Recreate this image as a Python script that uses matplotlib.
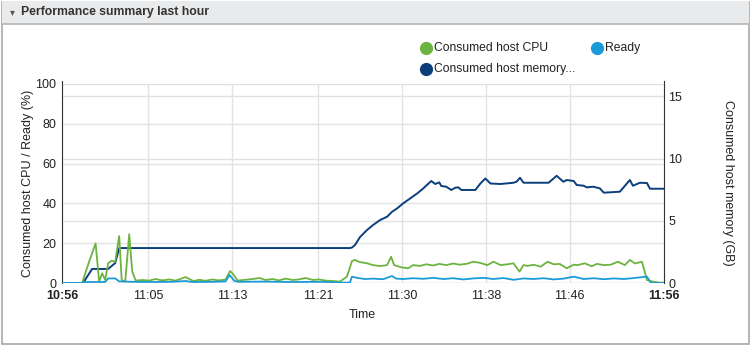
import matplotlib
matplotlib.use("Agg")
import matplotlib.pyplot as plt
from matplotlib.patches import Rectangle
from matplotlib.lines import Line2D

plt.rcParams['font.family'] = ['Liberation Sans', 'DejaVu Sans']

W, H, DPI = 751, 346, 100

# ---- data (minutes after 10:56) ----
cpu_t = [0, 2.0, 2.7, 3.35, 3.7, 4.0, 4.3, 4.6, 4.95, 5.3, 5.7, 5.95, 6.3, 6.7, 7.0, 7.35,
         8.0, 8.7, 9.3, 10.0, 10.7, 11.3, 11.8, 12.3, 13.1, 13.7, 14.3, 15.0, 15.6, 16.3,
         16.75, 17.05, 17.5, 18.2, 19.0, 19.7, 20.3, 21.0, 21.6, 22.3, 23.0, 23.6, 24.3,
         25.0, 25.6, 26.3, 27.0, 27.7, 28.4, 28.9, 29.2, 29.7, 30.4, 31.0, 31.7, 32.4, 32.8,
         33.1, 33.8, 34.5, 35.0, 35.7, 36.3, 37.0, 37.6, 38.3, 39.0, 39.6, 40.3, 41.0, 41.6,
         42.4, 43.0, 43.7, 44.4, 45.0, 45.6, 46.0, 46.4, 47.0, 47.7, 48.4, 49.0, 49.6, 50.3,
         51.0, 51.4, 52.1, 52.8, 53.3, 54.0, 54.7, 55.4, 56.1, 56.6, 57.1, 57.8, 58.3, 58.8,
         59.5, 60.0]
cpu_v = [0, 0, 10.7, 19.9, 0.7, 4.9, 1.5, 9.9, 11.2, 10.7, 23.6, 1.5, 0.7, 24.5, 5.7, 1.2,
         1.5, 1.2, 2.0, 1.3, 1.8, 1.2, 2.0, 3.0, 1.0, 1.6, 1.1, 1.8, 1.3, 1.7,
         6.0, 4.5, 1.2, 1.6, 2.0, 2.5, 1.5, 2.0, 1.3, 2.2, 1.5, 1.8, 2.5,
         1.5, 1.8, 1.2, 1.0, 0.7, 3.2, 11.0, 11.6, 10.5, 9.9, 9.0, 8.5, 9.0, 13.2,
         9.0, 7.9, 7.4, 9.0, 8.6, 9.4, 8.8, 9.6, 9.0, 9.8, 9.2, 9.6, 10.7, 10.2,
         9.0, 10.7, 9.0, 9.4, 9.9, 5.7, 9.0, 8.6, 9.2, 8.2, 10.7, 9.4, 9.6, 7.4,
         9.2, 9.0, 9.9, 8.4, 9.6, 9.0, 9.2, 10.7, 9.0, 11.6, 9.8, 10.7, 1.5, 0.8,
         0.2, 0.2]

ready_t = [0, 2.0, 2.3, 4.3, 4.6, 5.3, 5.7, 7.0, 9.0, 11.0, 12.3, 13.0, 15.0, 16.3,
           16.7, 17.2, 17.6, 20.0, 23.0, 26.0, 27.5, 28.7, 28.9, 29.5, 30.2, 31.0, 32.0,
           32.9, 33.3, 34.0, 35.0, 36.0, 37.0, 38.0, 39.0, 40.0, 41.0, 42.0, 43.0, 44.0,
           45.0, 46.0, 47.0, 48.0, 49.0, 50.0, 51.0, 52.0, 53.0, 54.0, 55.0, 56.0, 57.0,
           58.3, 58.7, 60.0]
ready_v = [0, 0, 0.5, 0.5, 2.3, 2.3, 0.8, 0.6, 0.5, 0.6, 1.0, 0.5, 0.6, 0.8,
           4.0, 1.0, 0.6, 0.7, 0.5, 0.6, 0.2, 0.2, 3.2, 2.5, 2.0, 2.2, 1.9,
           3.5, 2.2, 2.0, 2.4, 2.1, 2.6, 2.0, 2.4, 1.8, 2.3, 2.6, 2.0, 2.5,
           1.6, 2.3, 2.0, 2.4, 1.8, 2.2, 3.2, 2.0, 2.4, 1.9, 2.3, 2.0, 2.5,
           3.2, 0.0, 0.0]

mem_t = [0, 2.1, 3.0, 4.6, 5.3, 5.7, 28.7, 28.9, 29.2, 29.7, 30.4, 31.0, 31.7, 32.4, 32.9,
         33.4, 34.0, 34.7, 35.4, 36.0, 36.8, 37.2, 37.6, 37.8, 38.3, 38.8, 39.2, 39.5, 39.8,
         41.2, 41.7, 42.2, 42.7, 43.7, 45.0, 45.3, 45.65, 46.0, 48.5, 49.3, 49.97, 50.3,
         51.0, 51.3, 52.0, 52.3, 52.95, 53.6, 54.0, 55.6, 56.6, 56.9, 57.6, 58.3, 58.6, 60.0]
mem_v = [0, 0, 1.13, 1.13, 1.6, 2.81, 2.81, 2.85, 3.05, 3.69, 4.26, 4.66, 5.06, 5.33, 5.73,
         6.0, 6.4, 6.8, 7.2, 7.6, 8.2, 7.96, 8.09, 7.8, 7.74, 7.48, 7.66, 7.69, 7.48,
         7.48, 8.0, 8.4, 8.0, 7.96, 8.06, 8.14, 8.46, 8.06, 8.06, 8.62, 8.14, 8.28,
         8.2, 7.88, 7.82, 7.69, 7.74, 7.61, 7.26, 7.34, 8.28, 7.82, 8.06, 8.04, 7.58, 7.58]

tick_pos = [0, 8.55, 16.95, 25.5, 33.9, 42.3, 50.6, 60.0]
tick_lbl = ["10:56", "11:05", "11:13", "11:21", "11:30", "11:38", "11:46", "11:56"]

C_CPU = "#6db33f"
C_READY = "#1a9bd7"
C_MEM = "#0b3e7b"
GRID = "#e2e2e2"
AXIS = "#333333"

fig = plt.figure(figsize=(W / DPI, H / DPI), dpi=DPI)
fig.patch.set_facecolor("white")

def px(x, y):
    return x / W, 1 - y / H

# panel frame and header bar (kept behind the axes)
fig.patches.append(Rectangle((1.5 / W, 1 - 343.5 / H), 747.5 / W, 342 / H,
                             transform=fig.transFigure, facecolor="white",
                             edgecolor="#a8a8a8", lw=1.2, zorder=-3))
fig.patches.append(Rectangle((1.5 / W, 1 - 23.5 / H), 747.5 / W, 22 / H,
                             transform=fig.transFigure, facecolor="#e8eaeb",
                             edgecolor="none", zorder=-2))
fig.lines.append(Line2D([1.5 / W, 749 / W], [1 - 23.5 / H, 1 - 23.5 / H],
                        transform=fig.transFigure, color="#b5b5b5", lw=1.2, zorder=-1))
fig.text(*px(12, 12), "\u25be", fontsize=7, color="#555555", ha="center", va="center",
         family=["DejaVu Sans"])
fig.text(*px(21, 11.5), "Performance summary last hour", fontsize=8.8, fontweight="bold",
         color="#333333", ha="left", va="center")

# axes: ax carries the % scale, ax2 the GB scale
ax = fig.add_axes([62 / W, 1 - 283 / H, (664 - 62) / W, (283 - 84) / H])
ax2 = ax.twinx()
ax.set_zorder(ax2.get_zorder() + 1)
ax.patch.set_visible(False)

ax.set_xlim(0, 60)
ax.set_ylim(0, 100)
ax2.set_ylim(0, 16)

ax.set_yticks([0, 20, 40, 60, 80, 100])
ax2.set_yticks([0, 5, 10, 15])
ax.set_xticks(tick_pos)
ax.set_xticklabels(tick_lbl)
for i in (0, len(tick_lbl) - 1):
    ax.get_xticklabels()[i].set_fontweight("bold")

for a in (ax, ax2):
    for s in a.spines.values():
        s.set_visible(False)
    a.tick_params(length=0, labelsize=9, colors="#222222")

ax.spines["left"].set_visible(True)
ax.spines["left"].set_color(AXIS)
ax.spines["left"].set_bounds(0, 101.5)
ax2.spines["right"].set_visible(True)
ax2.spines["right"].set_color(AXIS)
ax2.spines["right"].set_bounds(0, 16.25)

ax.tick_params(axis="y", pad=4)
ax.tick_params(axis="x", pad=5)
ax2.tick_params(axis="y", pad=3)

ax.set_axisbelow(True)
ax.grid(True, color=GRID, lw=1.0)
ax2.grid(True, axis="y", color=GRID, lw=1.0)
ax2.grid(False, axis="x")

# memory series lives on the GB scale but is drawn in the top axes, above the grid
ax.plot(mem_t, mem_v, color=C_MEM, lw=1.4, solid_joinstyle="round", zorder=3,
        transform=ax2.transData)
ax.plot(cpu_t, cpu_v, color=C_CPU, lw=1.3, solid_joinstyle="round", zorder=3)
ax.plot(ready_t, ready_v, color=C_READY, lw=1.3, solid_joinstyle="round", zorder=4)
ax.set_xlim(0, 60)
ax.set_ylim(0, 100)

# axis titles
fig.text(*px(28, 183), "Consumed host CPU / Ready (%)", rotation=90, fontsize=9,
         ha="center", va="center", color="#222222")
fig.text(*px(728, 183), "Consumed host memory (GB)", rotation=270, fontsize=9,
         ha="center", va="center", color="#222222")
fig.text(*px(362, 315), "Time", fontsize=9, ha="center", va="center", color="#222222")

# legend
legend_items = [(426, 48, C_CPU, "Consumed host CPU"),
                (597, 48, C_READY, "Ready"),
                (426, 69, C_MEM, "Consumed host memory...")]
for x, y, c, label in legend_items:
    fig.lines.append(Line2D([x / W], [1 - y / H], transform=fig.transFigure, marker="o",
                            markersize=9.5, color=c, markeredgewidth=0, zorder=5))
    fig.text(*px(x + 8, y), label, fontsize=8.7, ha="left", va="center", color="#222222")

fig.savefig("out.png", dpi=DPI)
